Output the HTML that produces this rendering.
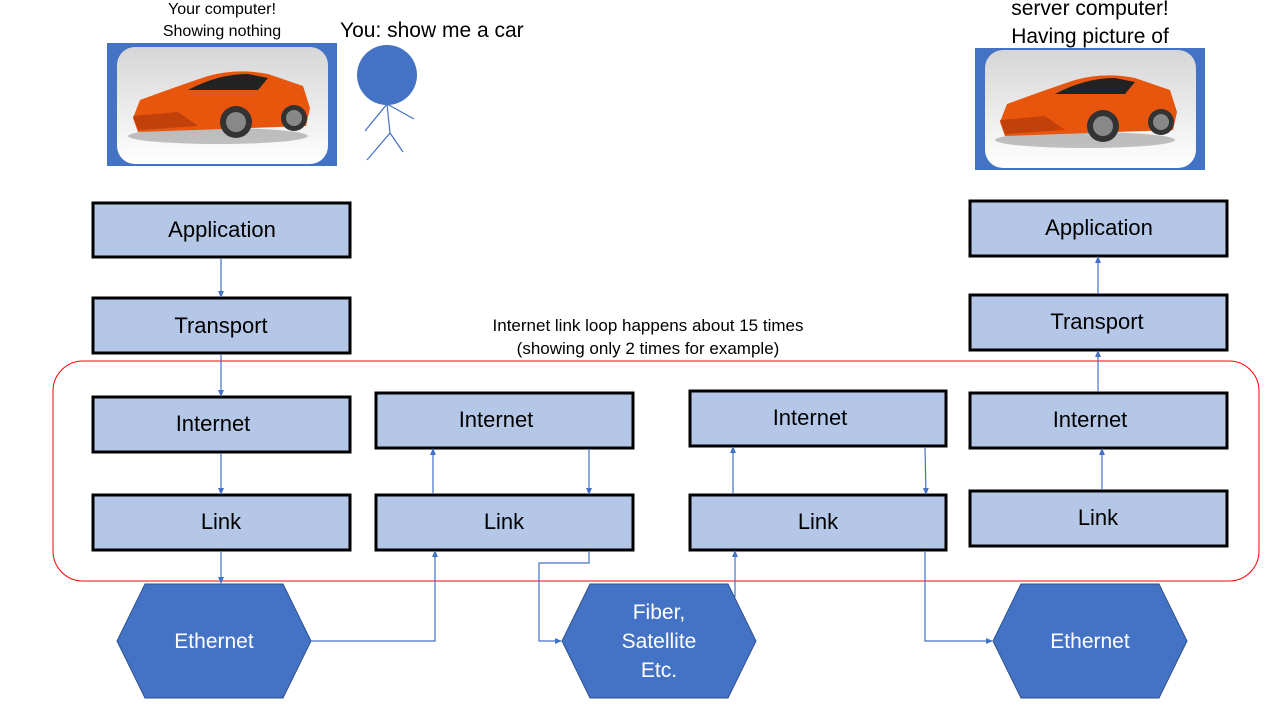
<!DOCTYPE html>
<html><head><meta charset="utf-8"><style>
html,body{margin:0;padding:0;background:#fff}
svg{display:block}
text{font-family:"Liberation Sans","DejaVu Sans",sans-serif}
</style></head><body>
<svg width="1280" height="720" viewBox="0 0 1280 720" xmlns="http://www.w3.org/2000/svg">
<defs>
<marker id="a" markerWidth="8" markerHeight="8" refX="6" refY="4" orient="auto" markerUnits="userSpaceOnUse">
<path d="M0,1 L7,4 L0,7 z" fill="#4472C4"/></marker>
<linearGradient id="bg" x1="0" y1="0" x2="0" y2="1"><stop offset="0" stop-color="#d6d6d8"/><stop offset="1" stop-color="#ffffff"/></linearGradient>
<g id="car">
<ellipse cx="0" cy="28" rx="90" ry="8" fill="#555" opacity="0.35"/>
<path d="M-85,10 L-78,-8 Q-40,-22 -10,-32 Q20,-40 50,-34 L85,-22 L92,0 L88,18 L-80,24 Z" fill="#e8560d"/>
<path d="M-30,-18 Q0,-34 30,-34 L50,-30 L40,-18 Z" fill="#222"/>
<path d="M-85,8 L-40,4 L-20,18 L-80,22 Z" fill="#c2400a"/>
<circle cx="18" cy="14" r="16" fill="#333"/><circle cx="18" cy="14" r="10" fill="#888"/>
<circle cx="76" cy="10" r="13" fill="#333"/><circle cx="76" cy="10" r="8" fill="#888"/>
</g>
</defs>

<text x="222" y="14" font-size="16" text-anchor="middle">Your computer!</text>
<text x="222" y="36" font-size="16" text-anchor="middle">Showing nothing</text>
<rect x="107" y="43" width="230" height="123" fill="#4472C4"/>
<rect x="117" y="47" width="211" height="117" rx="18" fill="url(#bg)"/>
<use href="#car" x="218" y="108"/>

<text x="340" y="37" font-size="21">You: show me a car</text>
<circle cx="387" cy="75" r="30" fill="#4472C4"/>
<g stroke="#4472C4" stroke-width="1.2" fill="none">
<line x1="387" y1="104" x2="390" y2="133"/><line x1="387" y1="104" x2="414" y2="119"/>
<line x1="387" y1="104" x2="365" y2="131"/><line x1="390" y1="133" x2="367" y2="160"/>
<line x1="390" y1="133" x2="403" y2="152"/></g>

<text x="1090" y="15" font-size="21" text-anchor="middle">server computer!</text>
<text x="1090" y="43" font-size="21" text-anchor="middle">Having picture of</text>
<rect x="975" y="48" width="230" height="122" fill="#4472C4"/>
<rect x="985" y="50" width="211" height="118" rx="18" fill="url(#bg)"/>
<use href="#car" x="1085" y="112"/>

<text x="648" y="331" font-size="17" text-anchor="middle">Internet link loop happens about 15 times</text>
<text x="648" y="354" font-size="17" text-anchor="middle">(showing only 2 times for example)</text>

<rect x="53" y="361" width="1206" height="220" rx="30" fill="none" stroke="#FF0000" stroke-width="1"/>

<g fill="#B4C7E7" stroke="#000" stroke-width="3">
<rect x="93" y="203" width="257" height="54"/>
<rect x="93" y="298" width="257" height="55"/>
<rect x="93" y="397" width="257" height="55"/>
<rect x="93" y="495" width="257" height="55"/>
<rect x="376" y="393" width="257" height="55"/>
<rect x="376" y="495" width="257" height="55"/>
<rect x="690" y="391" width="256" height="55"/>
<rect x="690" y="495" width="256" height="55"/>
<rect x="970" y="201" width="257" height="55"/>
<rect x="970" y="295" width="257" height="55"/>
<rect x="970" y="393" width="257" height="55"/>
<rect x="970" y="491" width="257" height="55"/>
</g>
<g font-size="22" text-anchor="middle" fill="#000">
<text x="222" y="237">Application</text>
<text x="221" y="333">Transport</text>
<text x="213" y="431">Internet</text>
<text x="221" y="529">Link</text>
<text x="496" y="427">Internet</text>
<text x="504" y="529">Link</text>
<text x="810" y="425">Internet</text>
<text x="818" y="529">Link</text>
<text x="1099" y="235">Application</text>
<text x="1097" y="329">Transport</text>
<text x="1090" y="427">Internet</text>
<text x="1098" y="525">Link</text>
</g>

<g fill="#4472C4" stroke="#2F528F" stroke-width="1">
<polygon points="145,584 283,584 311,641 283,698 145,698 117,641"/>
<polygon points="590,584 728,584 756,641 728,698 590,698 562,641"/>
<polygon points="1021,584 1159,584 1187,641 1159,698 1021,698 993,641"/>
</g>
<g font-size="21" text-anchor="middle" fill="#fff">
<text x="214" y="648">Ethernet</text>
<text x="659" y="619">Fiber,</text>
<text x="659" y="648">Satellite</text>
<text x="659" y="677">Etc.</text>
<text x="1090" y="648">Ethernet</text>
</g>

<g stroke="#4472C4" stroke-width="1.2" fill="none" marker-end="url(#a)">
<line x1="221" y1="258" x2="221" y2="297"/>
<line x1="221" y1="354" x2="221" y2="396"/>
<line x1="221" y1="453" x2="221" y2="494"/>
<line x1="221" y1="551" x2="221" y2="583"/>
<polyline points="311,641 435,641 435,551"/>
<line x1="433" y1="494" x2="433" y2="449"/>
<line x1="589" y1="449" x2="589" y2="494"/>
<polyline points="589,551 589,563 539,563 539,641 561,641"/>
<polyline points="735,597 735,551"/>
<line x1="733" y1="494" x2="733" y2="447"/>
<line x1="925" y1="447" x2="926" y2="494"/>
<polyline points="925,551 925,641 992,641"/>
<line x1="1102" y1="490" x2="1102" y2="449"/>
<line x1="1098" y1="392" x2="1098" y2="351"/>
<line x1="1098" y1="294" x2="1098" y2="257"/>
</g>
</svg>
</body></html>
